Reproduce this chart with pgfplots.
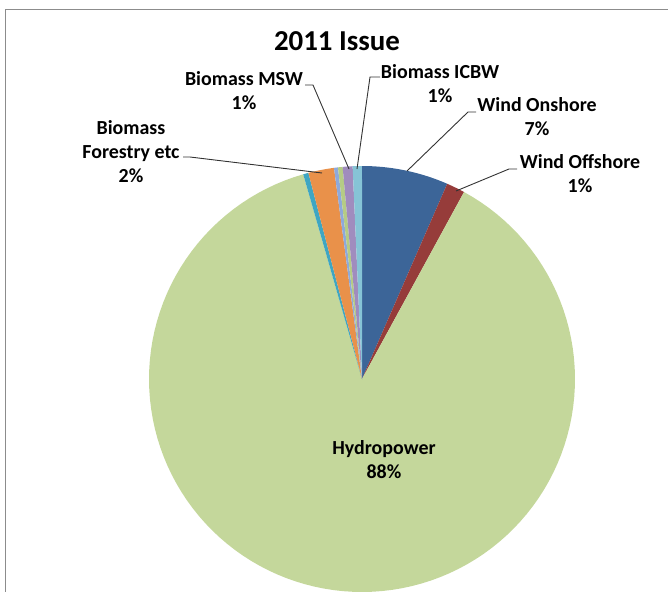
\documentclass[border=0pt]{standalone}
\usepackage{pgfplots}
\pgfplotsset{compat=1.18}
\usepackage{pgfplotstable}
\usepackage{fontspec}
\setmainfont{Carlito}
\definecolor{cOn}{HTML}{3C6598}
\definecolor{cOff}{HTML}{963C3A}
\definecolor{cHydro}{HTML}{C4D79B}
\definecolor{cTeal}{HTML}{3FA6C2}
\definecolor{cFor}{HTML}{E9914A}
\definecolor{cSteel}{HTML}{8EA9DB}
\definecolor{cGr}{HTML}{B5CC85}
\definecolor{cMSW}{HTML}{A08CBE}
\definecolor{cICBW}{HTML}{86C4D6}
\definecolor{frame}{HTML}{8C8C8C}
% shares in percent (clockwise from 12 o'clock)
\pgfplotstableread{
name          value
WindOnshore    6.55
WindOffshore   1.40
Hydropower    87.60
Other1         0.40
BiomassForest  1.95
Other2         0.30
Other3         0.35
BiomassMSW     0.75
BiomassICBW    0.70
}\piedata
\def\cx{362}\def\cy{379}\def\R{213}
\newcommand{\slice}[3]{%
  \addplot[fill=#3, draw=none, domain={3.6*#1}:{3.6*#2}, samples=120, variable=\t]
    ({\cx+\R*sin(t)}, {\cy-\R*cos(t)}) -- (axis cs:\cx,\cy) -- cycle;}
\begin{document}
\begin{tikzpicture}
\begin{axis}[
  width=668bp, height=592bp, scale only axis,
  xmin=0, xmax=668, ymin=0, ymax=592, y dir=reverse,
  hide axis, clip=false,
]
% frame
\draw[frame, line width=1.3bp] (axis cs:5.5,592) -- (axis cs:5.5,9.5) -- (axis cs:668,9.5);
% slices (cumulative shares)
\slice{0}{6.55}{cOn}
\slice{6.55}{7.95}{cOff}
\slice{7.95}{95.55}{cHydro}
\slice{95.55}{95.95}{cTeal}
\slice{95.95}{97.90}{cFor}
\slice{97.90}{98.20}{cSteel}
\slice{98.20}{98.55}{cGr}
\slice{98.55}{99.30}{cMSW}
\slice{99.30}{100}{cICBW}
% leader lines
\draw[black!80, line width=0.9bp] (axis cs:305,85) -- (axis cs:313,85) -- (axis cs:349,169);
\draw[black!80, line width=0.9bp] (axis cs:380,77) -- (axis cs:370,77) -- (axis cs:357,169);
\draw[black!80, line width=0.9bp] (axis cs:476,112) -- (axis cs:468,112) -- (axis cs:407,171);
\draw[black!80, line width=0.9bp] (axis cs:517,169) -- (axis cs:509,169) -- (axis cs:456,191);
\draw[black!80, line width=0.9bp] (axis cs:183,157) -- (axis cs:190,157) -- (axis cs:322,173);
% texts
\node[font=\fontsize{29}{34}\selectfont\bfseries] at (axis cs:337,41) {2011 Issue};
\tikzset{lbl/.style={font=\fontsize{20}{24}\selectfont\bfseries, align=center}}
\node[lbl] at (axis cs:244,91) {Biomass MSW\\1\%};
\node[lbl] at (axis cs:440,84) {Biomass ICBW\\1\%};
\node[lbl] at (axis cs:537,117) {Wind Onshore\\7\%};
\node[lbl] at (axis cs:580,174) {Wind Offshore\\1\%};
\node[lbl] at (axis cs:131,152) {Biomass\\Forestry etc\\2\%};
\node[lbl] at (axis cs:384,460) {Hydropower\\88\%};
\end{axis}
\pgfresetboundingbox
\path (current axis.south west) rectangle (current axis.north east);
\end{tikzpicture}
\end{document}
